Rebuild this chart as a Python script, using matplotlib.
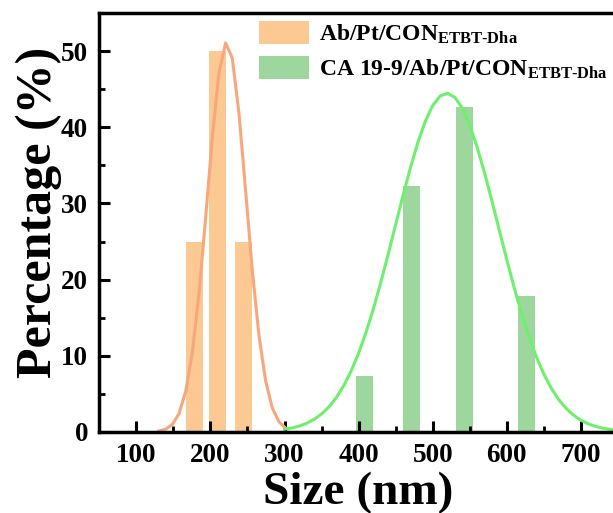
import matplotlib
matplotlib.use("Agg")
import matplotlib.pyplot as plt
from matplotlib.ticker import MultipleLocator

plt.rcParams["font.family"] = ["Liberation Serif", "DejaVu Serif"]
plt.rcParams["font.weight"] = "bold"
plt.rcParams["mathtext.fontset"] = "custom"
plt.rcParams["mathtext.rm"] = "Liberation Serif:bold"
plt.rcParams["mathtext.bf"] = "Liberation Serif:bold"
plt.rcParams["mathtext.it"] = "Liberation Serif:bold"

# Histogram of particle sizes (nm) and percentages
ab_centers = [179, 209, 244]
ab_percent = [25.0, 50.0, 25.0]
ca_centers = [408, 471, 543, 627]
ca_percent = [7.3, 32.3, 42.7, 17.8]
bar_width = 23

# Fitted distribution curves
ab_fit_x = [130.5, 139.5, 148.5, 157.5, 166.5, 175.5, 184.5, 193.5, 202.5, 211.5,
            220.5, 229.5, 238.5, 247.5, 256.5, 265.5, 274.5, 283.5, 292.5, 301.5]
ab_fit_y = [0.10, 0.33, 0.94, 2.36, 5.25, 10.35, 18.10, 28.08, 38.65, 47.19,
            51.11, 49.12, 41.86, 31.65, 21.23, 12.63, 6.67, 3.12, 1.30, 0.48]
ca_fit_x = [300, 310, 320, 330, 340, 350, 360, 370, 380, 390, 400, 410, 420, 430,
            440, 450, 460, 470, 480, 490, 500, 510, 520, 530, 540, 550, 560, 570,
            580, 590, 600, 610, 620, 630, 640, 650, 660, 670, 680, 690, 700, 710,
            720, 730, 740, 750]
ca_fit_y = [0.32, 0.49, 0.75, 1.11, 1.63, 2.33, 3.27, 4.50, 6.06, 7.99, 10.32,
            13.05, 16.18, 19.65, 23.37, 27.22, 31.07, 34.73, 38.03, 40.80, 42.87,
            44.13, 44.50, 43.95, 42.52, 40.30, 37.41, 34.02, 30.31, 26.45, 22.61,
            18.93, 15.53, 12.47, 9.82, 7.57, 5.72, 4.23, 3.07, 2.18, 1.51, 1.03,
            0.69, 0.45, 0.29, 0.18]

labels = ["Ab/Pt/CON$_{\\mathbf{ETBT\u2010Dha}}$",
          "CA 19-9/Ab/Pt/CON$_{\\mathbf{ETBT\u2010Dha}}$"]
x_ticks = [100, 200, 300, 400, 500, 600, 700]
y_ticks = [0, 10, 20, 30, 40, 50]

bar_orange = "#FDC993"
bar_green = "#9DD79D"
line_orange = "#F7A77A"
line_green = "#6EF06E"

fig = plt.figure(figsize=(6.13, 5.13), dpi=100)
ax = fig.add_axes([0.162, 0.1585, 0.846, 0.8155])

ax.bar(ab_centers, ab_percent, width=bar_width, color=bar_orange,
       label=labels[0], zorder=1)
ax.bar(ca_centers, ca_percent, width=bar_width, color=bar_green,
       label=labels[1], zorder=1)
ax.plot(ab_fit_x, ab_fit_y, color=line_orange, lw=2.2, zorder=2)
ax.plot(ca_fit_x, ca_fit_y, color=line_green, lw=2.2, zorder=2)

ax.set_xlim(50, 750)
ax.set_ylim(0, 55)
ax.set_xticks(x_ticks)
ax.set_yticks(y_ticks)
ax.xaxis.set_minor_locator(MultipleLocator(50))
ax.yaxis.set_minor_locator(MultipleLocator(5))
ax.tick_params(which="major", direction="in", length=8, width=2.2,
               labelsize=19.5, colors="black")
ax.tick_params(which="minor", direction="in", length=4, width=2.0)
ax.tick_params(axis="x", which="major", pad=8)
ax.tick_params(axis="y", which="major", pad=8)
for lab in ax.get_xticklabels() + ax.get_yticklabels():
    lab.set_fontweight("bold")

for side in ["left", "bottom", "top"]:
    ax.spines[side].set_linewidth(2.5)
ax.spines["right"].set_visible(False)

ax.set_xlabel("Size (nm)", fontsize=34, fontweight="bold", labelpad=3)
ax.set_ylabel("Percentage (%)", fontsize=36, fontweight="bold")
ax.yaxis.set_label_coords(-0.071, 0.525)

leg = ax.legend(loc="upper left", bbox_to_anchor=(259 / 613, 1 - 21 / 513),
                bbox_transform=fig.transFigure, frameon=False,
                fontsize=17, handlelength=2.1, handleheight=1.1,
                handletextpad=0.45, labelspacing=0.45, borderpad=0,
                borderaxespad=0)
for t in leg.get_texts():
    t.set_fontweight("bold")

fig.savefig("out.png", dpi=100)
